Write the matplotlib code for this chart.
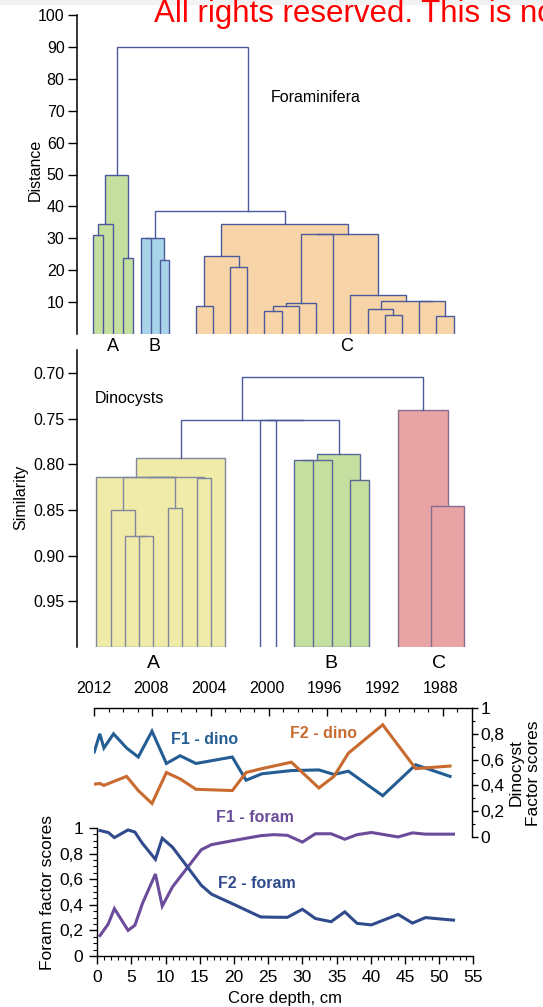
import matplotlib
matplotlib.use("Agg")
import matplotlib.pyplot as plt
from matplotlib.ticker import MultipleLocator, FuncFormatter
from matplotlib.patches import Rectangle

plt.rcParams['font.family'] = ['Liberation Sans', 'DejaVu Sans']

# Data
# ---------------------------------------

# Foraminifera dendrogram (distance); leaf positions along the panel
foram_leaf_x = [15.8, 25.9, 35.5, 46.3, 56.3,
                64.3, 73.6, 82.6, 92.3,
                118.6, 135.8, 153.0, 170.2, 187.4, 204.6, 221.8, 239.0,
                256.2, 273.4, 290.6, 307.8, 325.0, 342.2, 359.4, 376.6]
foram_leaf_group = [0] * 5 + [1] * 4 + [2] * 16
# (child a, child b, distance); new node ids continue after the leaves
foram_merges = [(0, 1, 31), (25, 2, 34.5), (3, 4, 23.7), (26, 27, 50),
                (5, 6, 30), (7, 8, 23.2), (29, 30, 30),
                (9, 10, 8.8), (11, 12, 20.9), (32, 33, 24.5),
                (13, 14, 7.2), (35, 15, 8.9), (36, 16, 9.7), (37, 17, 31.4),
                (20, 21, 6.0), (19, 39, 7.7), (23, 24, 5.6), (22, 41, 10.3),
                (40, 42, 10.3), (18, 43, 12.2), (38, 44, 31.4), (34, 45, 34.5),
                (31, 46, 38.7), (28, 47, 90)]
foram_labels = ["A", "B", "C"]
foram_label_x = [35.5, 77.0, 270.0]

# Dinocyst dendrogram (similarity); leaf positions in years
dino_leaf_x = [2011.83, 2010.80, 2009.84, 2008.86, 2007.88, 2006.84, 2005.89,
               2004.86, 2003.90, 2002.89,
               2000.45, 1999.37,
               1998.15, 1996.83, 1995.52, 1994.22, 1992.93,
               1990.91, 1988.64, 1986.36]
dino_leaf_group = [0] * 10 + [None] * 2 + [1] * 5 + [2] * 3
dino_merges = [(3, 4, 0.878), (2, 20, 0.878), (1, 21, 0.850), (5, 6, 0.848),
               (7, 8, 0.8155), (22, 23, 0.8144), (25, 24, 0.8144),
               (0, 26, 0.8144), (27, 9, 0.793),
               (12, 13, 0.795), (29, 14, 0.795), (15, 16, 0.817), (30, 31, 0.789),
               (10, 11, 0.752), (33, 32, 0.752), (28, 34, 0.752),
               (18, 19, 0.8455), (17, 36, 0.7406), (35, 37, 0.7047)]
dino_labels = ["A", "B", "C"]
dino_label_x = [2007.85, 1995.6, 1988.1]
years = [2012, 2008, 2004, 2000, 1996, 1992, 1988]

# Dinocyst factor scores vs core depth
dino_depth = [0, 0.8, 1.4, 2.8, 4.7, 6.4, 8.4, 10.5, 12.5, 14.8, 20.1, 22.1,
              24.4, 28.7, 32.7, 34.9, 37.0, 42.0, 46.8, 51.8]
f1_dino = [0.66, 0.80, 0.69, 0.80, 0.69, 0.62, 0.82, 0.57, 0.63, 0.57, 0.62, 0.44,
           0.49, 0.515, 0.52, 0.485, 0.51, 0.32, 0.56, 0.47]
f2_dino = [0.41, 0.415, 0.40, 0.43, 0.47, 0.36, 0.26, 0.50, 0.45, 0.37, 0.36, 0.50,
           0.53, 0.58, 0.38, 0.47, 0.65, 0.87, 0.53, 0.55]

# Foram factor scores vs core depth
foram_depth = [0.4, 1.6, 2.5, 4.5, 5.5, 6.6, 8.5, 9.5, 11.0, 15.2, 16.7, 19.7,
               23.9, 25.8, 27.8, 30.0, 31.9, 34.2, 36.2, 38.0, 40.1, 44.0, 46.1,
               48.0, 52.1]
f1_foram = [0.16, 0.25, 0.37, 0.20, 0.24, 0.41, 0.64, 0.39, 0.54, 0.83, 0.87, 0.90,
            0.94, 0.948, 0.943, 0.89, 0.955, 0.955, 0.912, 0.948, 0.965, 0.93,
            0.962, 0.952, 0.952]
f2_foram = [0.98, 0.965, 0.925, 0.985, 0.968, 0.88, 0.755, 0.92, 0.85, 0.553, 0.483,
            0.41, 0.305, 0.303, 0.302, 0.365, 0.293, 0.268, 0.345, 0.255, 0.243,
            0.325, 0.257, 0.30, 0.28]

# Styles
# ---------------------------------------
LINK = "#4a5a9a"
foram_fill = ["#c5df9f", "#a8d4ea", "#f8d5a8"]
foram_line = [LINK, LINK, LINK]
dino_fill = ["#f1eba9", "#c4df9f", "#e8a4a5"]
dino_line = ["#80879e", "#5a6896", "#86708e"]
C_F1D = "#245d93"
C_F2D = "#c96a2e"
C_F1F = "#6a4c9a"
C_F2F = "#2f4b8c"

W, H = 543, 1007
fig = plt.figure(figsize=(W / 100, H / 100), dpi=100)


def add_ax(left, top, right, bottom):
    return fig.add_axes([left / W, 1 - bottom / H, (right - left) / W, (bottom - top) / H])


def fx(px):
    return px / W


def fy(py):
    return 1 - py / H


def draw_dendrogram(ax, leaf_x, leaf_group, merges, base, fills, lines,
                    anchors=None, bottom_edge=()):
    anchors = anchors or {}
    pos = list(leaf_x)
    hts = [base] * len(leaf_x)
    grp = list(leaf_group)
    for a, b, h in merges:
        node = len(pos)
        pos.append(anchors.get(node, (pos[a] + pos[b]) / 2))
        hts.append(h)
        grp.append(grp[a] if grp[a] == grp[b] else None)
    n = len(leaf_x)
    # fills under every link of a coloured cluster
    for k, (a, b, h) in enumerate(merges):
        g = grp[n + k]
        if g is not None:
            ax.fill([pos[a], pos[b], pos[b], pos[a]], [base, base, h, h],
                    color=fills[g], lw=0, zorder=1)
    # links
    for k, (a, b, h) in enumerate(merges):
        g = grp[n + k]
        c = lines[g] if g is not None else LINK
        ax.plot([pos[a], pos[a], pos[b], pos[b]], [hts[a], h, h, hts[b]],
                color=c, lw=1.0, zorder=3, solid_joinstyle="miter")
    for g in bottom_edge:
        xs = [leaf_x[i] for i in range(n) if leaf_group[i] == g]
        ax.plot([min(xs), max(xs)], [base, base], color=lines[g], lw=1.0, zorder=3)


# Panel 1 — Foraminifera dendrogram
# ---------------------------------------
ax1 = add_ax(77, 15, 543, 334)
ax1.set_xlim(0, 466)
ax1.set_ylim(0, 100)
draw_dendrogram(ax1, foram_leaf_x, foram_leaf_group, foram_merges, 0,
                foram_fill, foram_line, anchors={47: 171.0})
for s in ["top", "right", "bottom"]:
    ax1.spines[s].set_visible(False)
ax1.spines["left"].set_linewidth(1.1)
ax1.set_xticks([])
ax1.set_yticks(range(10, 101, 10))
ax1.tick_params(axis="y", length=6.5, width=1.0, pad=2.5, labelsize=11.5)
ax1.patch.set_visible(False)
for lab, x in zip(foram_labels, foram_label_x):
    ax1.text(x, -4.0, lab, ha="center", va="center", fontsize=13)
fig.text(fx(270.5), fy(97), "Foraminifera", fontsize=11.5, va="center", ha="left")
fig.text(fx(35), fy(170), "Distance", rotation=90, fontsize=11.5,
         va="center", ha="center")

# Panel 2 — Dinocyst dendrogram
# ---------------------------------------
ax2 = add_ax(77, 350, 543, 647)
ax2.set_xlim(2012 + 16.5 / 14.45, 2012 - (543 - 93.5) / 14.45)
ax2.set_ylim(1.0, 0.675)
draw_dendrogram(ax2, dino_leaf_x, dino_leaf_group, dino_merges, 1.0,
                dino_fill, dino_line, bottom_edge=(0, 1))
for s in ["top", "right", "bottom"]:
    ax2.spines[s].set_visible(False)
ax2.spines["left"].set_linewidth(1.1)
ax2.set_xticks([])
ax2.set_yticks([0.70, 0.75, 0.80, 0.85, 0.90, 0.95])
ax2.yaxis.set_major_formatter(FuncFormatter(lambda v, _: "%.2f" % v))
ax2.tick_params(axis="y", length=6.5, width=1.0, pad=2.5, labelsize=11.5)
ax2.patch.set_visible(False)
for lab, x in zip(dino_labels, dino_label_x):
    ax2.text(x, 1.0 + 16 / 912, lab, ha="center", va="center", fontsize=14)
for yr in years:
    ax2.text(yr, 1.0 + 41 / 912, str(yr), ha="center", va="center", fontsize=11.5)
fig.text(fx(95.2), fy(399), "Dinocysts", fontsize=11.5, va="center", ha="left")
fig.text(fx(21), fy(497), "Similarity", rotation=90, fontsize=11.5,
         va="center", ha="center")

# Panel 3 — factor scores vs core depth
# ---------------------------------------
comma = FuncFormatter(lambda v, _: ("%g" % round(v, 2)).replace(".", ","))

# year scale along the top edge (ticks only)
ax_yr = add_ax(94.3, 708, 472, 837)
ax_yr.set_xlim(2012, 1986)
ax_yr.xaxis.tick_top()
ax_yr.xaxis.set_major_locator(MultipleLocator(4))
ax_yr.xaxis.set_minor_locator(MultipleLocator(1))
ax_yr.tick_params(axis="x", which="major", direction="in", length=6, width=1.0,
                  labeltop=False, labelbottom=False)
ax_yr.tick_params(axis="x", which="minor", direction="in", length=3.2, width=0.8)
for s in ["left", "right", "bottom"]:
    ax_yr.spines[s].set_visible(False)
ax_yr.spines["top"].set_linewidth(1.0)
ax_yr.set_yticks([])
ax_yr.patch.set_visible(False)

ax_d = add_ax(94.3, 708, 472, 837)
ax_d.set_xlim(0, 55)
ax_d.set_ylim(0, 1)
ax_d.plot(dino_depth, f1_dino, color=C_F1D, lw=2.2, solid_joinstyle="miter")
ax_d.plot(dino_depth, f2_dino, color=C_F2D, lw=2.2, solid_joinstyle="miter")
for s in ["left", "bottom", "top"]:
    ax_d.spines[s].set_visible(False)
ax_d.spines["right"].set_linewidth(1.0)
ax_d.set_xticks([])
ax_d.yaxis.tick_right()
ax_d.yaxis.set_major_locator(MultipleLocator(0.2))
ax_d.yaxis.set_minor_locator(MultipleLocator(0.1))
ax_d.yaxis.set_major_formatter(comma)
ax_d.tick_params(axis="y", which="major", length=4, width=1.0, pad=2, labelsize=12.5)
ax_d.tick_params(axis="y", which="minor", length=2, width=0.8)
ax_d.patch.set_visible(False)

ax_f = add_ax(97.3, 828, 473.3, 956)
ax_f.set_xlim(0, 55)
ax_f.set_ylim(0, 1)
ax_f.plot(foram_depth, f1_foram, color=C_F1F, lw=2.2, solid_joinstyle="miter")
ax_f.plot(foram_depth, f2_foram, color=C_F2F, lw=2.2, solid_joinstyle="miter")
ax_f.spines["top"].set_visible(False)
ax_f.spines["right"].set_visible(False)
ax_f.spines["left"].set_linewidth(1.0)
ax_f.spines["bottom"].set_linewidth(1.0)
ax_f.xaxis.set_major_locator(MultipleLocator(5))
ax_f.xaxis.set_minor_locator(MultipleLocator(1))
ax_f.yaxis.set_major_locator(MultipleLocator(0.2))
ax_f.yaxis.set_minor_locator(MultipleLocator(0.05))
ax_f.yaxis.set_major_formatter(comma)
ax_f.tick_params(which="major", length=5.5, width=1.0, pad=4.5, labelsize=12.5)
ax_f.tick_params(which="minor", length=2.8, width=0.8)
ax_f.patch.set_visible(False)

fig.text(fx(285.3), fy(998), "Core depth, cm", fontsize=12, ha="center", va="center")
fig.text(fx(48), fy(892), "Foram factor scores", rotation=90, fontsize=12.5,
         ha="center", va="center")
fig.text(fx(516), fy(773), "Dinocyst", rotation=90, fontsize=12.5,
         ha="center", va="center")
fig.text(fx(533.5), fy(773), "Factor scores", rotation=90, fontsize=12.5,
         ha="center", va="center")

fig.text(fx(171), fy(739), "F1 - dino", color=C_F1D, fontsize=11.5,
         fontweight="bold", ha="left", va="center")
fig.text(fx(290), fy(733), "F2 - dino", color=C_F2D, fontsize=11.5,
         fontweight="bold", ha="left", va="center")
fig.text(fx(216), fy(818), "F1 - foram", color=C_F1F, fontsize=11.5,
         fontweight="bold", ha="left", va="center")
fig.text(fx(218), fy(883), "F2 - foram", color=C_F2F, fontsize=11.5,
         fontweight="bold", ha="left", va="center")

# Header strip and watermark
fig.patches.append(Rectangle((0, fy(4)), 1, 4 / H, transform=fig.transFigure,
                             color="#f2f2f2", zorder=0))
fig.text(fx(154), fy(22), "All rights reserved. This is not", color="red",
         fontsize=22.5, ha="left", va="baseline")

fig.savefig("out.png", dpi=100)
